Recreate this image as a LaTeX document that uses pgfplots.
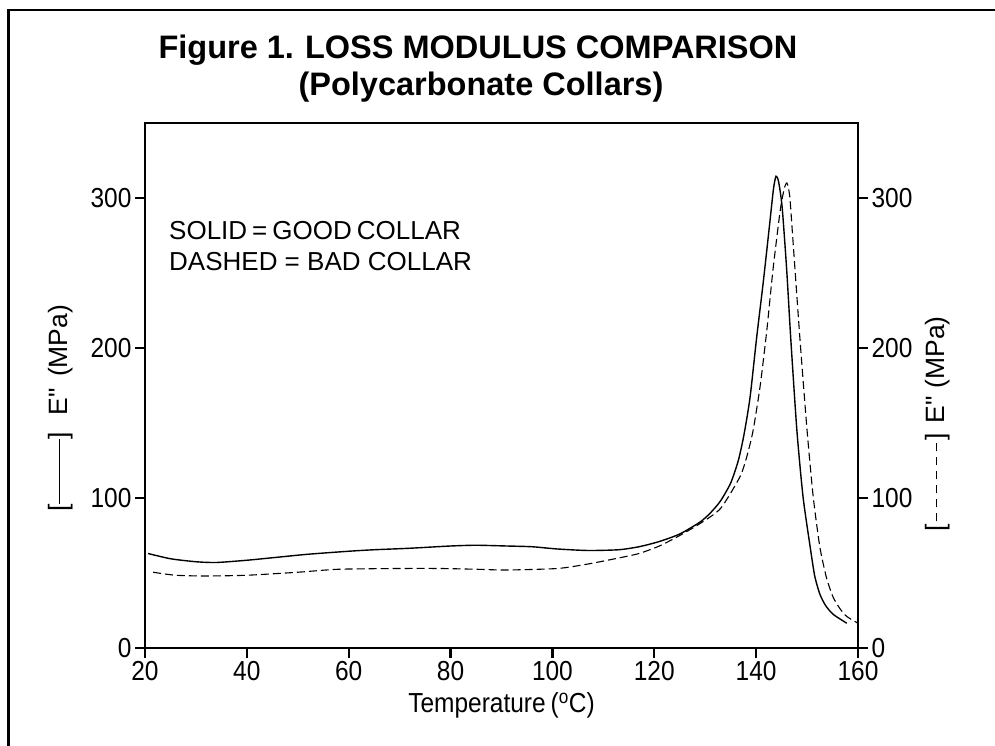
\documentclass[border=0pt]{standalone}
\usepackage{pgfplots}
\pgfplotsset{compat=1.18}
\usepackage{fontspec}
\setmainfont{Liberation Sans}
\newfontfamily\cond{Liberation Sans}[FakeStretch=0.89]
\newfontfamily\plainsans{Liberation Sans}
\newcommand{\tickfont}{\cond\fontsize{27.5}{30}\selectfont}
\newcommand{\labfont}{\plainsans\fontsize{26.5}{30}\selectfont}
\newcommand{\qq}{\symbol{34}}
\begin{document}
\begin{tikzpicture}[x=1pt,y=1pt]
\useasboundingbox (0,0) rectangle (995,746);
% partial outer frame
\draw[line width=2.5pt] (8.5,0) -- (8.5,736) -- (995,736);
% title
\node[anchor=base, font=\bfseries\fontsize{32.5}{36}\selectfont] at (478,687) {Figure 1.\hspace{-1pt} LOSS MODULUS COMPARISON};
\node[anchor=base, font=\bfseries\fontsize{32.5}{36}\selectfont] at (481,650) {(Polycarbonate Collars)};
\begin{axis}[
  at={(145pt,98pt)}, anchor=south west,
  scale only axis, width=713pt, height=525pt,
  xmin=20, xmax=160, ymin=0, ymax=350,
  xtick={20,40,...,160}, ytick={0,100,200,300},
  tick align=outside, xtick pos=bottom, ytick pos=left,
  major tick length=10pt,
  axis line style={line width=2.4pt},
  tick style={line width=2.2pt, black},
  ticklabel style={font=\tickfont},
  /pgf/number format/assume math mode=true,
  clip=false,
]
\addplot[black, line width=1.4pt, smooth, tension=0.4] coordinates {
(20.6,63) (25,59.5) (30,57.5) (34,57) (40,58.5) (46,60.5) (52,62.5) (60,64.5)
(65,65.5) (72,66.5) (80,68) (85,68.5) (91,68) (96,67.5) (101,66) (107,65)
(113,65.5) (117,67.5) (121,71) (125,76) (129,84) (131,90) (133,98) (135,110)
(136.5,125) (137.6,142) (138.8,167) (140.1,207) (141.4,244) (142.6,281)
(143.4,306) (143.9,314.5) (144.4,311) (145.1,294) (146,252) (146.8,206)
(148,145) (149.2,101) (150.6,67.5) (151.5,48) (152.5,36) (153.6,28.5) (155.1,22.5) (157.8,16.5)
};
\end{axis}
\begin{axis}[
  at={(145pt,98pt)}, anchor=south west,
  scale only axis, width=713pt, height=525pt,
  xmin=20, xmax=160, ymin=0, ymax=350,
  axis x line=none, axis y line*=right,
  ytick={0,100,200,300},
  tick align=outside,
  major tick length=10pt,
  axis line style={line width=2.4pt},
  tick style={line width=2.2pt, black},
  ticklabel style={font=\tickfont},
  /pgf/number format/assume math mode=true,
  clip=false,
]
\addplot[black, line width=1.1pt, dash pattern=on 8pt off 4pt, smooth, tension=0.4] coordinates {
(21.6,50.5) (26,48.5) (32,48) (40,48.5) (50,50.5) (58,52.5) (70,53) (78,53)
(85,52.5) (91,52) (101,53) (107,56) (113,60) (117,63) (121,68) (125,75)
(129,83) (133,93) (136.8,114) (138.2,128) (139.4,145) (140.8,175) (142.1,212) (143.3,252) (144.7,291)
(145.5,306) (146.05,310) (146.6,301) (147.2,273) (148.6,206) (150,145)
(151.2,101) (152.5,67.5) (153.8,47) (155.1,34) (156.5,26) (157.8,21) (160,16.5)
};
\end{axis}
% x label
\node[anchor=base, font=\tickfont] at (501.5,33) {Temperature\hspace{5pt}(\textsuperscript{o}C)};
% annotation
\node[anchor=base west, font=\fontsize{26}{30}\selectfont, inner sep=0] at (169,506) {SOLID\hspace{5pt}=\hspace{5pt}GOOD\hspace{5pt}COLLAR};
\node[anchor=base west, font=\fontsize{26}{30}\selectfont, inner sep=0] at (169,475) {DASHED = BAD COLLAR};
% left y label
\node[rotate=90, font=\labfont, anchor=base west, inner sep=0] at (67,234) {[\rule[0.25em]{65pt}{1pt}]\hspace{17pt}E\qq\hspace{11pt}(MPa)};
% right y label
\def\dsh{\rule[0.25em]{8.5pt}{1pt}\hspace{5.5pt}}
\node[rotate=90, font=\labfont, anchor=base west, inner sep=0] at (944,214) {[\hspace{3pt}\dsh\dsh\dsh\dsh\dsh\rule[0.25em]{8.5pt}{1pt}\hspace{2pt}]\hspace{10pt}E\qq\hspace{8pt}(MPa)};
\end{tikzpicture}
\end{document}
